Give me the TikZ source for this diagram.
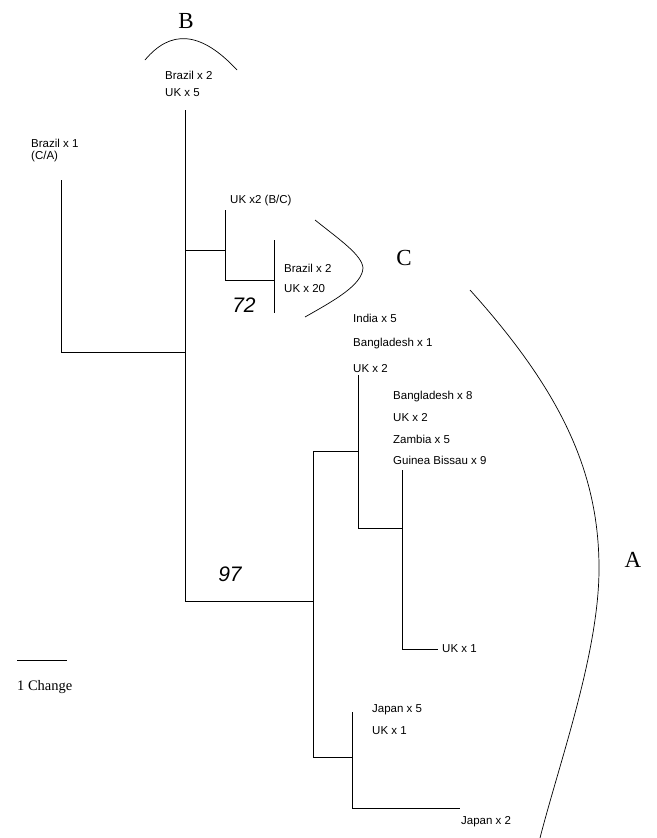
\documentclass[tikz,border=0pt]{standalone}
\usepackage{fontspec}
\setmainfont{Liberation Serif}
\newfontfamily\taxonfont{Liberation Sans}

\begin{document}
\begin{tikzpicture}[x=1pt, y=-1pt,
		branch/.style={line width=1pt},
		clade/.style={line width=0.7pt},
		taxon/.style={anchor=west, inner sep=0pt, font=\taxonfont\fontsize{11.5}{13}\selectfont},
		group/.style={inner sep=0pt, font=\fontsize{23}{25}\selectfont},
		support/.style={inner sep=0pt, font=\taxonfont\itshape\fontsize{21}{24}\selectfont}]
		\useasboundingbox (0,0) rectangle (656,838);
		
		% Joints of the tree
		\coordinate (bTop) at (185,110);
		\coordinate (bcJoin) at (185,250);
		\coordinate (caJoin) at (185,352);
		\coordinate (aJoin) at (185,601);
		\coordinate (caTop) at (61,180);
		\coordinate (caBot) at (61,352);
		\coordinate (bcTop) at (225,210);
		\coordinate (bcMid) at (225,250);
		\coordinate (bcBot) at (225,280);
		\coordinate (cTop) at (274,240);
		\coordinate (cMid) at (274,280);
		\coordinate (cBot) at (274,313);
		\coordinate (aTop) at (313,451);
		\coordinate (aMid) at (313,601);
		\coordinate (aBot) at (313,757);
		\coordinate (indTop) at (358,375);
		\coordinate (indMid) at (358,451);
		\coordinate (indBot) at (358,528);
		\coordinate (gbTop) at (402,470);
		\coordinate (gbMid) at (402,528);
		\coordinate (gbBot) at (402,649);
		\coordinate (ukEnd) at (438,649);
		\coordinate (jpTop) at (352,712);
		\coordinate (jpMid) at (352,757);
		\coordinate (jpBot) at (352,808);
		\coordinate (jpEnd) at (460,808);
		
		% Main stem and Brazil x 1 branch
		\draw[branch] (bTop) -- (aJoin) -- (aMid);
		\draw[branch] (caTop) -- (caBot) -- (caJoin);
		
		% UK x2 (B/C) and clade C
		\draw[branch] (bcJoin) -- (bcMid);
		\draw[branch] (bcTop) -- (bcBot) -- (cMid);
		\draw[branch] (cTop) -- (cBot);
		
		% Clade A
		\draw[branch] (aTop) -- (aBot);
		\draw[branch] (aTop) -- (indMid);
		\draw[branch] (indTop) -- (indBot) -- (gbMid);
		\draw[branch] (gbTop) -- (gbBot) -- (ukEnd);
		\draw[branch] (aBot) -- (jpMid);
		\draw[branch] (jpTop) -- (jpBot) -- (jpEnd);
		
		% Taxon labels
		\node[taxon] (brB) at (165,75) {Brazil x 2};
		\node[taxon] (ukB) at (165,93) {UK x 5};
		\node[taxon] (brCA) at (31,143) {Brazil x 1};
		\node[taxon] (ca) at (31,157) {(C/A)};
		\node[taxon] (ukBC) at (230,201) {UK x2 (B/C)};
		\node[taxon] (brC) at (284,268) {Brazil x 2};
		\node[taxon] (ukC) at (284,289) {UK x 20};
		\node[taxon] (ind) at (353,318) {India x 5};
		\node[taxon] (bgd1) at (353,344) {Bangladesh x 1};
		\node[taxon] (ukA1) at (353,369) {UK x 2};
		\node[taxon] (bgd8) at (393,397) {Bangladesh x 8};
		\node[taxon] (ukA2) at (393,418) {UK x 2};
		\node[taxon] (zam) at (393,439) {Zambia x 5};
		\node[taxon] (gb) at (393,460) {Guinea Bissau x 9};
		\node[taxon] (ukA3) at (442,649) {UK x 1};
		\node[taxon] (jp5) at (372,710) {Japan x 5};
		\node[taxon] (ukA4) at (372,731) {UK x 1};
		\node[taxon] (jp2) at (461,822) {Japan x 2};
		
		% Bootstrap values
		\node[support] (boot72) at (244,305) {72};
		\node[support] (boot97) at (230,574) {97};
		
		% Clade brackets
		\draw[clade] (145,60) .. controls (170,30) and (200,30) .. (237,70);
		\draw[clade] (315,220) .. controls (340,240) and (362,255) .. (363,268)
			.. controls (362,285) and (335,300) .. (305,317);
		\draw[clade] (470,290) .. controls (560,390) and (598,470) .. (599,565)
			.. controls (600,650) and (560,760) .. (540,838);
		\node[group] (labB) at (186,21) {B};
		\node[group] (labC) at (404,258) {C};
		\node[group] (labA) at (633,560) {A};
		
		% Scale bar
		\coordinate (scaleL) at (17,660);
		\coordinate (scaleR) at (67,660);
		\draw[clade] (scaleL) -- (scaleR);
		\node[anchor=west, inner sep=0pt, font=\fontsize{14.5}{16}\selectfont] (scale) at (17,687) {1 Change};
	\end{tikzpicture}
\end{document}
